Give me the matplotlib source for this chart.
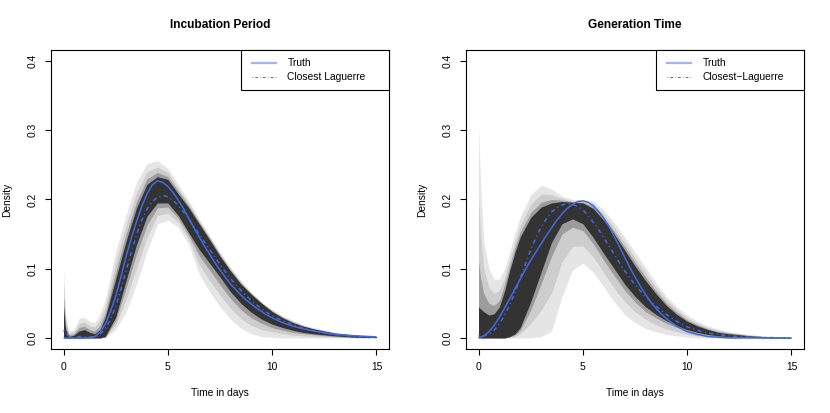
import numpy as np
import matplotlib
matplotlib.use("Agg")
import matplotlib.pyplot as plt
from matplotlib.patches import Rectangle
from matplotlib.lines import Line2D

plt.rcParams['font.family'] = ['Liberation Sans', 'DejaVu Sans']

# ---------------- data ----------------
titles = ["Incubation Period", "Generation Time"]
legend_labels = [["Truth", "Closest Laguerre"], ["Truth", "Closest\u2212Laguerre"]]
x_label = "Time in days"
y_label = "Density"
x_ticks = [0, 5, 10, 15]
y_ticks = [0.0, 0.1, 0.2, 0.3, 0.4]
y_tick_labels = ["0.0", "0.1", "0.2", "0.3", "0.4"]

# time grid for the lines
t_line = [0, 0.25, 0.5, 0.75, 1.0, 1.25, 1.5, 1.75, 2.0, 2.25, 2.5, 2.75, 3.0, 3.25, 3.5, 3.75,
          4.0, 4.25, 4.5, 4.75, 5.0, 5.25, 5.5, 5.75, 6.0, 6.25, 6.5, 6.75, 7.0, 7.25, 7.5, 7.75,
          8.0, 8.25, 8.5, 8.75, 9.0, 9.25, 9.5, 9.75, 10.0, 10.5, 11.0, 11.5, 12.0, 13.0, 14.0, 15.0]

inc_truth = [0, 0, 0, 0, 0, 0.0005, 0.002, 0.008, 0.020, 0.038, 0.060, 0.088, 0.118, 0.144, 0.168, 0.190,
             0.208, 0.221, 0.227, 0.225, 0.219, 0.210, 0.199, 0.187, 0.173, 0.159, 0.146, 0.133, 0.121, 0.109, 0.098, 0.088,
             0.078, 0.070, 0.062, 0.055, 0.049, 0.043, 0.038, 0.033, 0.029, 0.022, 0.017, 0.013, 0.010, 0.005, 0.003, 0.0015]
inc_lag = [0.011, 0.003, 0.0, 0.002, 0.002, 0.001, 0.001, 0.005, 0.013, 0.027, 0.045, 0.070, 0.097, 0.124, 0.149, 0.170,
           0.186, 0.197, 0.203, 0.206, 0.204, 0.199, 0.191, 0.182, 0.172, 0.161, 0.150, 0.139, 0.128, 0.117, 0.106, 0.096,
           0.086, 0.077, 0.069, 0.061, 0.054, 0.048, 0.042, 0.037, 0.032, 0.025, 0.019, 0.014, 0.010, 0.005, 0.002, 0.001]

gen_truth = [0, 0.003, 0.009, 0.018, 0.030, 0.043, 0.057, 0.071, 0.085, 0.099, 0.112, 0.124, 0.136, 0.148, 0.159, 0.170,
             0.179, 0.187, 0.193, 0.197, 0.198, 0.196, 0.191, 0.183, 0.173, 0.161, 0.147, 0.132, 0.117, 0.102, 0.088, 0.075,
             0.063, 0.052, 0.043, 0.035, 0.028, 0.022, 0.017, 0.013, 0.009, 0.005, 0.002, 0.001, 0.0, 0.0, 0.0, 0.0]
gen_lag = [0.003, 0.003, 0.005, 0.011, 0.020, 0.033, 0.048, 0.066, 0.086, 0.107, 0.127, 0.145, 0.160, 0.172, 0.182, 0.188,
           0.192, 0.194, 0.193, 0.190, 0.185, 0.177, 0.167, 0.157, 0.145, 0.133, 0.121, 0.109, 0.097, 0.087, 0.077, 0.068,
           0.060, 0.053, 0.046, 0.040, 0.034, 0.029, 0.024, 0.020, 0.016, 0.011, 0.007, 0.005, 0.003, 0.001, 0.0005, 0.0]

# time grid for the quantile bands
t_band = [0, 0.1, 0.25, 0.5, 0.75, 1.0, 1.25, 1.5, 1.75, 2.0, 2.5, 3.0, 3.5, 4.0, 4.5, 5.0, 5.5, 6.0,
          6.5, 7.0, 7.5, 8.0, 8.5, 9.0, 9.5, 10.0, 10.5, 11.0, 11.5, 12.0, 13.0, 14.0, 15.0]

# incubation bands (outer -> inner)
inc_b1_up = [0.100, 0.035, 0.010, 0.012, 0.028, 0.030, 0.024, 0.022, 0.035, 0.055, 0.125, 0.178, 0.225, 0.252, 0.256, 0.245, 0.222, 0.198,
             0.172, 0.148, 0.124, 0.102, 0.083, 0.066, 0.052, 0.041, 0.032, 0.025, 0.019, 0.015, 0.008, 0.004, 0.002]
inc_b1_lo = [0, 0, 0, 0, 0, 0, 0, 0, 0, 0, 0.012, 0.038, 0.078, 0.125, 0.165, 0.170, 0.160, 0.135,
             0.092, 0.067, 0.045, 0.027, 0.014, 0.006, 0.002, 0.001, 0, 0, 0, 0, 0, 0, 0]
inc_b2_up = [0.078, 0.026, 0.007, 0.009, 0.021, 0.023, 0.018, 0.016, 0.026, 0.045, 0.109, 0.163, 0.210, 0.240, 0.247, 0.239, 0.216, 0.194,
             0.169, 0.146, 0.122, 0.100, 0.081, 0.065, 0.051, 0.040, 0.031, 0.024, 0.018, 0.014, 0.008, 0.004, 0.002]
inc_b2_lo = [0, 0, 0, 0, 0, 0, 0, 0, 0, 0.001, 0.019, 0.056, 0.101, 0.145, 0.177, 0.180, 0.167, 0.142,
             0.106, 0.083, 0.062, 0.043, 0.028, 0.018, 0.012, 0.009, 0.006, 0.004, 0.003, 0.002, 0.001, 0.0004, 0.0002]
inc_b3_up = [0.059, 0.018, 0.004, 0.006, 0.015, 0.017, 0.012, 0.010, 0.018, 0.036, 0.095, 0.150, 0.197, 0.230, 0.239, 0.233, 0.212, 0.191,
             0.167, 0.144, 0.120, 0.098, 0.079, 0.064, 0.050, 0.039, 0.030, 0.023, 0.017, 0.013, 0.007, 0.004, 0.002]
inc_b3_lo = [0, 0, 0, 0, 0, 0, 0, 0, 0, 0.0015, 0.025, 0.072, 0.121, 0.163, 0.188, 0.189, 0.173, 0.148,
             0.119, 0.098, 0.077, 0.057, 0.041, 0.029, 0.021, 0.015, 0.011, 0.008, 0.006, 0.0045, 0.002, 0.0008, 0.0004]
inc_b4_up = [0.045, 0.012, 0.002, 0.004, 0.010, 0.012, 0.008, 0.006, 0.012, 0.030, 0.085, 0.140, 0.188, 0.222, 0.233, 0.229, 0.208, 0.188,
             0.165, 0.142, 0.118, 0.097, 0.078, 0.063, 0.050, 0.038, 0.029, 0.022, 0.017, 0.013, 0.007, 0.004, 0.002]
inc_b4_lo = [0, 0, 0, 0, 0, 0, 0, 0, 0, 0.002, 0.030, 0.083, 0.135, 0.176, 0.195, 0.195, 0.177, 0.152,
             0.128, 0.108, 0.088, 0.067, 0.050, 0.037, 0.027, 0.020, 0.015, 0.011, 0.008, 0.006, 0.003, 0.001, 0.0005]

# generation-time bands (outer -> inner)
gen_b1_up = [0.310, 0.220, 0.140, 0.100, 0.085, 0.085, 0.100, 0.125, 0.152, 0.175, 0.207, 0.221, 0.215, 0.205, 0.200, 0.200, 0.198, 0.185,
             0.167, 0.146, 0.124, 0.102, 0.080, 0.060, 0.045, 0.033, 0.024, 0.017, 0.013, 0.009, 0.005, 0.002, 0.001]
gen_b1_lo = [0, 0, 0, 0, 0, 0, 0, 0, 0, 0, 0, 0.002, 0.010, 0.060, 0.098, 0.108, 0.095, 0.074,
             0.052, 0.034, 0.022, 0.014, 0.009, 0.005, 0.003, 0.001, 0, 0, 0, 0, 0, 0, 0]
gen_b2_up = [0.204, 0.149, 0.099, 0.073, 0.064, 0.069, 0.087, 0.114, 0.140, 0.163, 0.193, 0.208, 0.207, 0.202, 0.198, 0.198, 0.194, 0.179,
             0.160, 0.138, 0.116, 0.094, 0.074, 0.055, 0.041, 0.029, 0.021, 0.015, 0.011, 0.008, 0.004, 0.0016, 0.0008]
gen_b2_lo = [0, 0, 0, 0, 0, 0, 0, 0.001, 0.002, 0.006, 0.021, 0.040, 0.065, 0.110, 0.132, 0.133, 0.117, 0.094,
             0.072, 0.053, 0.038, 0.027, 0.019, 0.013, 0.009, 0.005, 0.003, 0.002, 0.001, 0.001, 0.0004, 0, 0]
gen_b3_up = [0.111, 0.087, 0.064, 0.050, 0.047, 0.054, 0.077, 0.105, 0.131, 0.153, 0.181, 0.196, 0.200, 0.199, 0.197, 0.196, 0.190, 0.174,
             0.154, 0.132, 0.109, 0.088, 0.068, 0.050, 0.037, 0.026, 0.019, 0.013, 0.009, 0.007, 0.0035, 0.0012, 0.0006]
gen_b3_lo = [0, 0, 0, 0, 0, 0, 0, 0.0015, 0.0045, 0.011, 0.040, 0.078, 0.118, 0.150, 0.160, 0.155, 0.136, 0.112,
             0.090, 0.069, 0.052, 0.038, 0.029, 0.021, 0.015, 0.010, 0.006, 0.004, 0.002, 0.0015, 0.0008, 0, 0]
gen_b4_up = [0.045, 0.042, 0.038, 0.033, 0.035, 0.045, 0.068, 0.098, 0.124, 0.146, 0.174, 0.189, 0.195, 0.197, 0.196, 0.195, 0.187, 0.170,
             0.150, 0.127, 0.104, 0.083, 0.064, 0.047, 0.034, 0.024, 0.017, 0.012, 0.008, 0.006, 0.003, 0.001, 0.0005]
gen_b4_lo = [0, 0, 0, 0, 0, 0, 0, 0.002, 0.006, 0.015, 0.052, 0.095, 0.138, 0.165, 0.172, 0.165, 0.145, 0.122,
             0.100, 0.078, 0.060, 0.045, 0.034, 0.025, 0.018, 0.012, 0.008, 0.005, 0.003, 0.002, 0.001, 0, 0]

band_colors = ["#e5e5e5", "#cdcdcd", "#9c9c9c", "#333333"]
line_color = "#4169e1"
legend_truth_color = "#a3b5ec"

panels = [
    dict(title=titles[0], labels=legend_labels[0], truth=inc_truth, lag=inc_lag,
         bands=[(inc_b1_lo, inc_b1_up), (inc_b2_lo, inc_b2_up), (inc_b3_lo, inc_b3_up), (inc_b4_lo, inc_b4_up)]),
    dict(title=titles[1], labels=legend_labels[1], truth=gen_truth, lag=gen_lag,
         bands=[(gen_b1_lo, gen_b1_up), (gen_b2_lo, gen_b2_up), (gen_b3_lo, gen_b3_up), (gen_b4_lo, gen_b4_up)]),
]

# ---------------- figure ----------------
W, H = 830, 413
fig = plt.figure(figsize=(W / 100, H / 100), dpi=100)
fs = 7.4
ax_w, ax_h = 338, 299
lefts = [51, 466]
top = 50

for p, left in zip(panels, lefts):
    ax = fig.add_axes([left / W, (H - top - ax_h) / H, ax_w / W, ax_h / H])
    for (lo, up), c in zip(p["bands"], band_colors):
        ax.fill_between(t_band, lo, up, color=c, lw=0)
    ax.plot(t_line, p["truth"], color=line_color, lw=1.1, solid_capstyle="butt")
    ax.plot(t_line, p["lag"], color=line_color, lw=1.1, dashes=(0.7, 2.2, 2.8, 2.2))

    ax.set_xlim(-0.6, 15.6)
    ax.set_ylim(-0.016, 0.416)
    ax.set_xticks(x_ticks)
    ax.set_xticklabels([str(v) for v in x_ticks])
    ax.set_yticks(y_ticks)
    ax.set_yticklabels(y_tick_labels, rotation=90, va="center", ha="right")
    ax.tick_params(axis="both", length=4, width=0.8, labelsize=fs, color="black", pad=5.5)
    for s in ax.spines.values():
        s.set_linewidth(0.8)
        s.set_color("black")

    # legend box (top-right, like R's legend("topright"))
    lx0 = 189.7 / ax_w
    ly0 = 1 - 40 / ax_h
    ax.add_patch(Rectangle((lx0, ly0), 1 - lx0, 1 - ly0, transform=ax.transAxes,
                           facecolor="white", edgecolor="black", lw=0.8, zorder=5, clip_on=False))
    hx0, hx1 = 201.3 / ax_w, 225 / ax_w
    tx = 236.3 / ax_w
    r1, r2 = 1 - 13.3 / ax_h, 1 - 27.3 / ax_h
    ax.add_line(Line2D([hx0, hx1], [r1, r1], transform=ax.transAxes, color=legend_truth_color, lw=1.6, zorder=6))
    ax.add_line(Line2D([hx0, hx1], [r2, r2], transform=ax.transAxes, color=line_color, lw=0.7,
                       dashes=(0.7, 2.2, 2.8, 2.2), zorder=6))
    ax.text(tx, r1, p["labels"][0], transform=ax.transAxes, fontsize=fs, va="center", ha="left", zorder=6)
    ax.text(tx, r2, p["labels"][1], transform=ax.transAxes, fontsize=fs, va="center", ha="left", zorder=6)

    cx = (left + ax_w / 2) / W
    fig.text(cx, 1 - 25 / H, p["title"], ha="center", va="center", fontsize=8.6, fontweight="bold")
    fig.text(cx, 1 - 393 / H, x_label, ha="center", va="center", fontsize=fs)
    fig.text((left - 43.5) / W, 1 - 200 / H, y_label, ha="center", va="center", rotation=90, fontsize=fs)

fig.savefig("out.png", dpi=100)
